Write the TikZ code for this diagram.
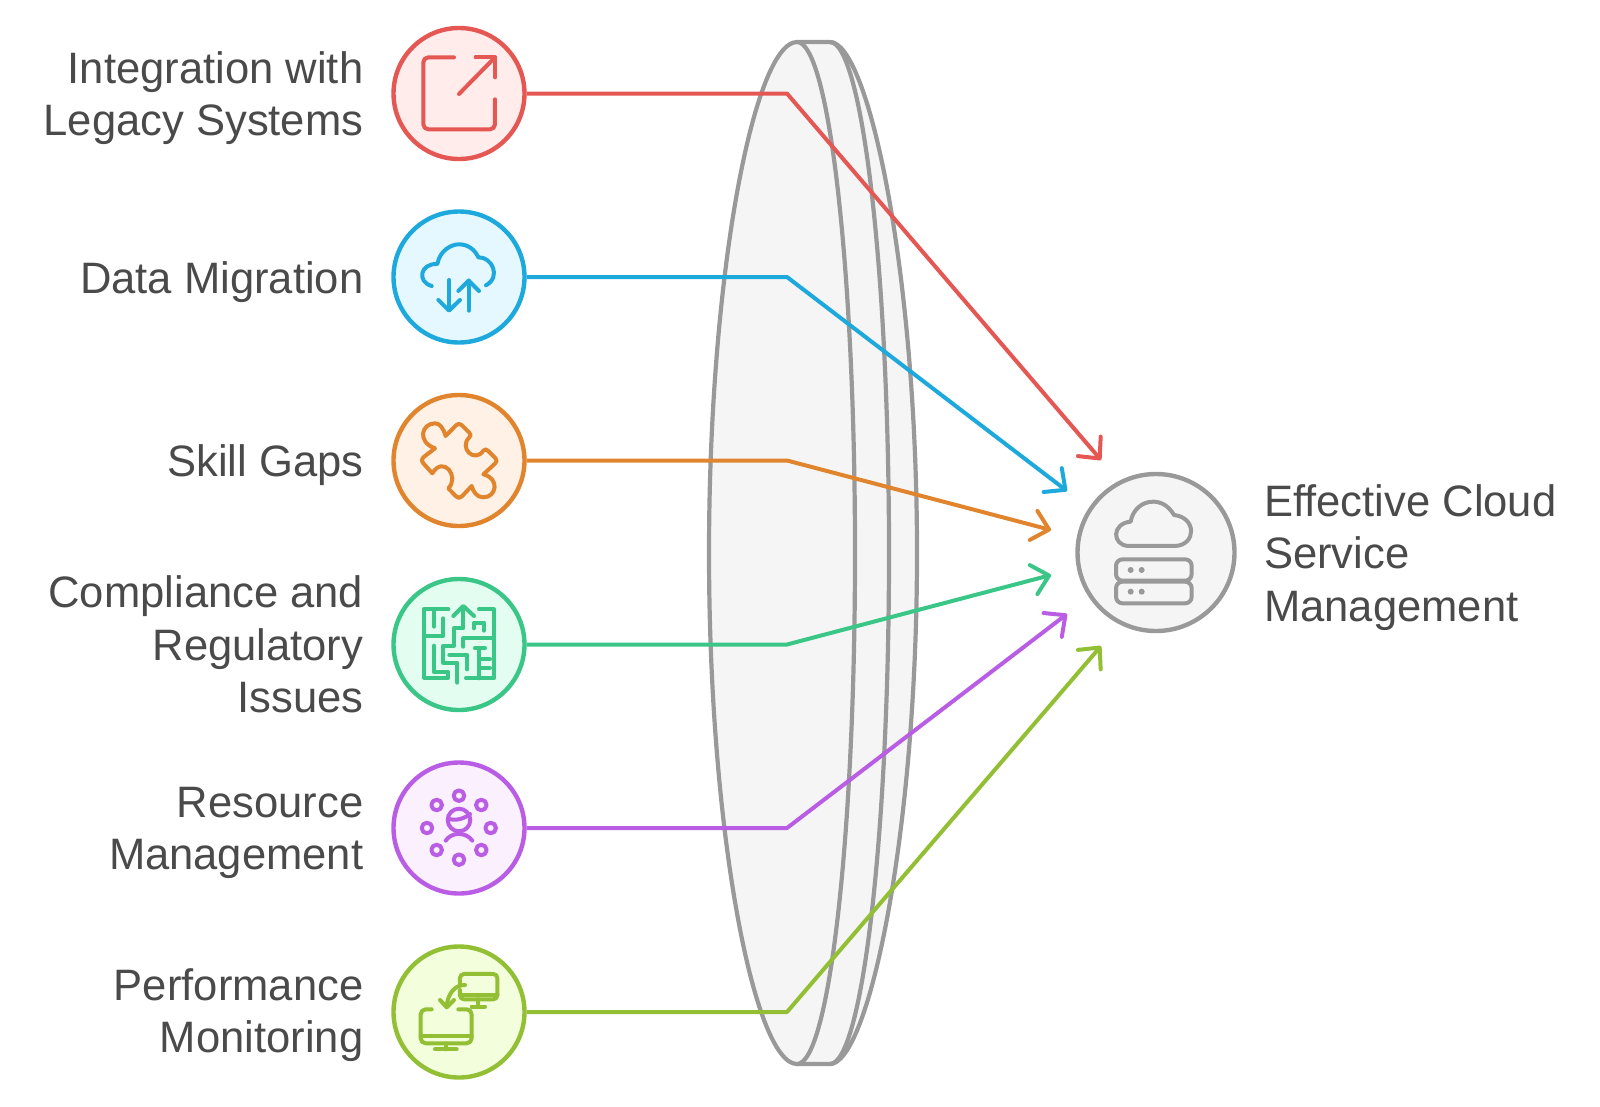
\documentclass[tikz,border=0pt]{standalone}
\usepackage{fontspec}
\setmainfont[FakeStretch=0.99]{Liberation Sans}
\usetikzlibrary{arrows.meta}
\definecolor{cred}{HTML}{E55753}\definecolor{fred}{HTML}{FFECEB}
\definecolor{cblue}{HTML}{1DA9DC}\definecolor{fblue}{HTML}{E6F8FF}
\definecolor{corange}{HTML}{E0852D}\definecolor{forange}{HTML}{FFF1E6}
\definecolor{cgreen}{HTML}{3AC687}\definecolor{fgreen}{HTML}{E3FDF0}
\definecolor{cpurple}{HTML}{BA5DE5}\definecolor{fpurple}{HTML}{FAF0FE}
\definecolor{clime}{HTML}{93BF35}\definecolor{flime}{HTML}{F3FEDD}
\definecolor{cgray}{HTML}{999999}\definecolor{fgray}{HTML}{F5F5F5}
\definecolor{ctext}{HTML}{4A4A4A}
\tikzset{
  bubble/.style={circle,draw=c#1,fill=f#1,line width=4.4pt,minimum size=131pt,inner sep=0pt},
  conn/.style={line width=4pt,line join=round,-{Straight Barb[length=16pt,width=30pt,round]}},
  lens/.style={draw=cgray,line width=4.2pt,fill=fgray,line join=round},
  lab/.style={font=\fontsize{44}{52.5}\selectfont,text=ctext,inner sep=0pt},
  ico/.style={line width=4pt,line cap=round,line join=round,draw=#1},
  zoomed/.style={x=0.3333pt,y=-0.3333pt}
}
\begin{document}
\begin{tikzpicture}[x=1pt,y=-1pt]
\useasboundingbox (0,0) rectangle (1600,1106);
% lens
\path[lens] (797,42) -- (830,42) .. controls (868,42) and (917,270) .. (917,553) .. controls (917,836) and (868,1064) .. (830,1064) -- (797,1064) -- cycle;
\draw[lens,fill=none] (830,42) .. controls (862,42) and (889,270) .. (889,553) .. controls (889,836) and (862,1064) .. (830,1064);
\path[lens] (797,42) .. controls (755,42) and (709,270) .. (709,553) .. controls (709,836) and (755,1064) .. (797,1064) .. controls (829,1064) and (855,836) .. (855,553) .. controls (855,270) and (829,42) .. (797,42) -- cycle;
% nodes
\node[bubble=red] (n1) at (459,93.5) {};
\node[bubble=blue] (n2) at (459,277) {};
\node[bubble=orange] (n3) at (459,460.5) {};
\node[bubble=green] (n4) at (459,644.5) {};
\node[bubble=purple] (n5) at (459,828) {};
\node[bubble=lime] (n6) at (459,1012) {};
\node[circle,draw=cgray,fill=fgray,line width=4.4pt,minimum size=157pt,inner sep=0pt] (hub) at (1156,552.5) {};
% coordinates
\coordinate (e1) at (787,93.5);\coordinate (e2) at (787,277);\coordinate (e3) at (787,460.5);
\coordinate (e4) at (787,644.5);\coordinate (e5) at (787,828);\coordinate (e6) at (787,1012);
\coordinate (t1) at (1101,460);\coordinate (t2) at (1067,491);\coordinate (t3) at (1051,530);
\coordinate (t4) at (1051,575);\coordinate (t5) at (1067,614);\coordinate (t6) at (1101,646);
\draw[conn,draw=cred] (n1.east) -- (e1) -- (t1);
\draw[conn,draw=cblue] (n2.east) -- (e2) -- (t2);
\draw[conn,draw=corange] (n3.east) -- (e3) -- (t3);
\draw[conn,draw=cgreen] (n4.east) -- (e4) -- (t4);
\draw[conn,draw=cpurple] (n5.east) -- (e5) -- (t5);
\draw[conn,draw=clime] (n6.east) -- (e6) -- (t6);
% labels
\node[lab,align=right,anchor=east] (l1) at (363.5,98) {Integration with\\Legacy Systems};
\node[lab,align=right,anchor=east] (l2) at (363.5,282) {Data Migration};
\node[lab,align=right,anchor=east] (l3) at (363.5,465.5) {Skill Gaps};
\node[lab,align=right,anchor=east] (l4) at (363.5,644.5) {Compliance and\\Regulatory\\Issues};
\node[lab,align=right,anchor=east] (l5) at (363.5,833) {Resource\\Management};
\node[lab,align=right,anchor=east] (l6) at (363.5,1015) {Performance\\Monitoring};
\node[lab,align=left,anchor=west] (l7) at (1264,557.5) {Effective Cloud\\Service\\Management};
% icon 1
\begin{scope}[shift={(380,10)},zoomed,ico=cred]
\draw (222,142) -- (145,142) to[out=180,in=90] (130,157) -- (130,343) to[out=-90,in=180] (145,358) -- (330,358) to[out=0,in=-90] (345,343) -- (345,268);
\draw (237,252) -- (345,142);
\draw (287,142) -- (345,142) -- (345,202);
\end{scope}
% icon 2
\begin{scope}[shift={(380,10)},zoomed,ico=cblue]
\draw (155,828) .. controls (110,815) and (120,760) .. (172,762) .. controls (180,720) and (215,703) .. (237,703) .. controls (265,703) and (285,720) .. (295,742) .. controls (335,740) and (365,800) .. (318,826);
\draw (207,810) -- (207,900);
\draw (175,870) -- (207,902) -- (240,870);
\draw (266,902) -- (266,812);
\draw (235,843) -- (266,812) -- (297,843);
\end{scope}
% icon 3
\begin{scope}[shift={(380,380)},zoomed,ico=corange]
\draw (197,168) -- (228,136) .. controls (233,130) and (241,130) .. (246,136) -- (268,158) .. controls (273,163) and (273,168) .. (268,172)
 .. controls (235,205) and (285,250) .. (310,212) .. controls (314,207) and (320,207) .. (324,212) -- (346,234) .. controls (351,240) and (351,246) .. (346,250) -- (310,283)
 .. controls (360,295) and (350,352) .. (310,352) .. controls (290,352) and (280,335) .. (275,318) -- (246,349) .. controls (240,355) and (234,355) .. (228,349) -- (205,325)
 .. controls (240,290) and (190,225) .. (157,280) -- (130,250) .. controls (124,243) and (124,238) .. (130,232) -- (165,205)
 .. controls (110,185) and (125,130) .. (165,130) .. controls (180,130) and (190,145) .. (197,168) -- cycle;
\end{scope}
% icon 4
\begin{scope}[shift={(380,380)},zoomed,ico=cgreen]
\draw (205,688) -- (132,688) -- (132,893) -- (205,893) -- (205,877) -- (162,877) -- (162,797);
\draw (162,690) -- (162,740);
\draw (190,715) -- (190,768) -- (132,768);
\draw (220,708) -- (250,678) -- (282,708);
\draw (250,680) -- (250,745) -- (222,745) -- (222,798) -- (190,798) -- (190,848) -- (232,848) -- (232,908);
\draw (297,688) -- (342,688) -- (342,895) -- (258,895);
\draw (282,745) -- (282,728) -- (312,728) -- (312,752);
\draw (250,800) -- (250,775) -- (342,775);
\draw (208,825) -- (262,825) -- (262,868);
\draw (285,805) -- (315,805);
\draw (297,805) -- (297,895);
\draw (297,838) -- (330,838);
\draw (297,865) -- (330,865);
\end{scope}
% icon 5
\begin{scope}[shift={(380,750)},zoomed,ico=cpurple]
\foreach \px/\py in {237/137,170/165,304/165,141/234,332/234,170/300,304/300,237/329}
  \draw (\px,\py) circle[radius=5.3pt];
\draw (237,210) circle[radius=11.3pt];
\draw (204,205) .. controls (225,215) and (255,205) .. (270,192);
\draw (197,272) .. controls (215,245) and (258,245) .. (277,272);
\end{scope}
% icon 6
\begin{scope}[shift={(380,750)},zoomed,ico=clime]
\draw[rounded corners=4pt] (240,700) -- (240,672) -- (352,672) -- (352,748) -- (240,748) -- (240,720);
\draw (240,735) -- (352,735);
\draw (295,748) -- (295,770);
\draw (275,770) -- (315,770);
\draw (255,705) .. controls (225,705) and (203,730) .. (200,770);
\draw (180,750) -- (200,772) -- (222,750);
\draw[rounded corners=5pt] (155,778) -- (122,778) -- (122,880) -- (275,880) -- (275,778) -- (235,778);
\draw (122,858) -- (275,858);
\draw (197,880) -- (197,898);
\draw (165,898) -- (230,898);
\end{scope}
% hub icon
\begin{scope}[shift={(1040,430)},zoomed,ico=cgray]
\draw (265,348) -- (405,348) .. controls (470,345) and (470,262) .. (402,255) .. controls (385,225) and (360,215) .. (340,215) .. controls (305,215) and (278,240) .. (272,275) .. controls (215,280) and (215,345) .. (265,348) -- cycle;
\draw[rounded corners=6.5pt] (228,388) rectangle (455,452);
\draw[rounded corners=6.5pt] (228,455) rectangle (455,520);
\foreach \px/\py in {272/420,305/420,272/485,305/485}
  \fill[cgray] (\px,\py) circle[radius=3pt];
\end{scope}
\end{tikzpicture}
\end{document}
